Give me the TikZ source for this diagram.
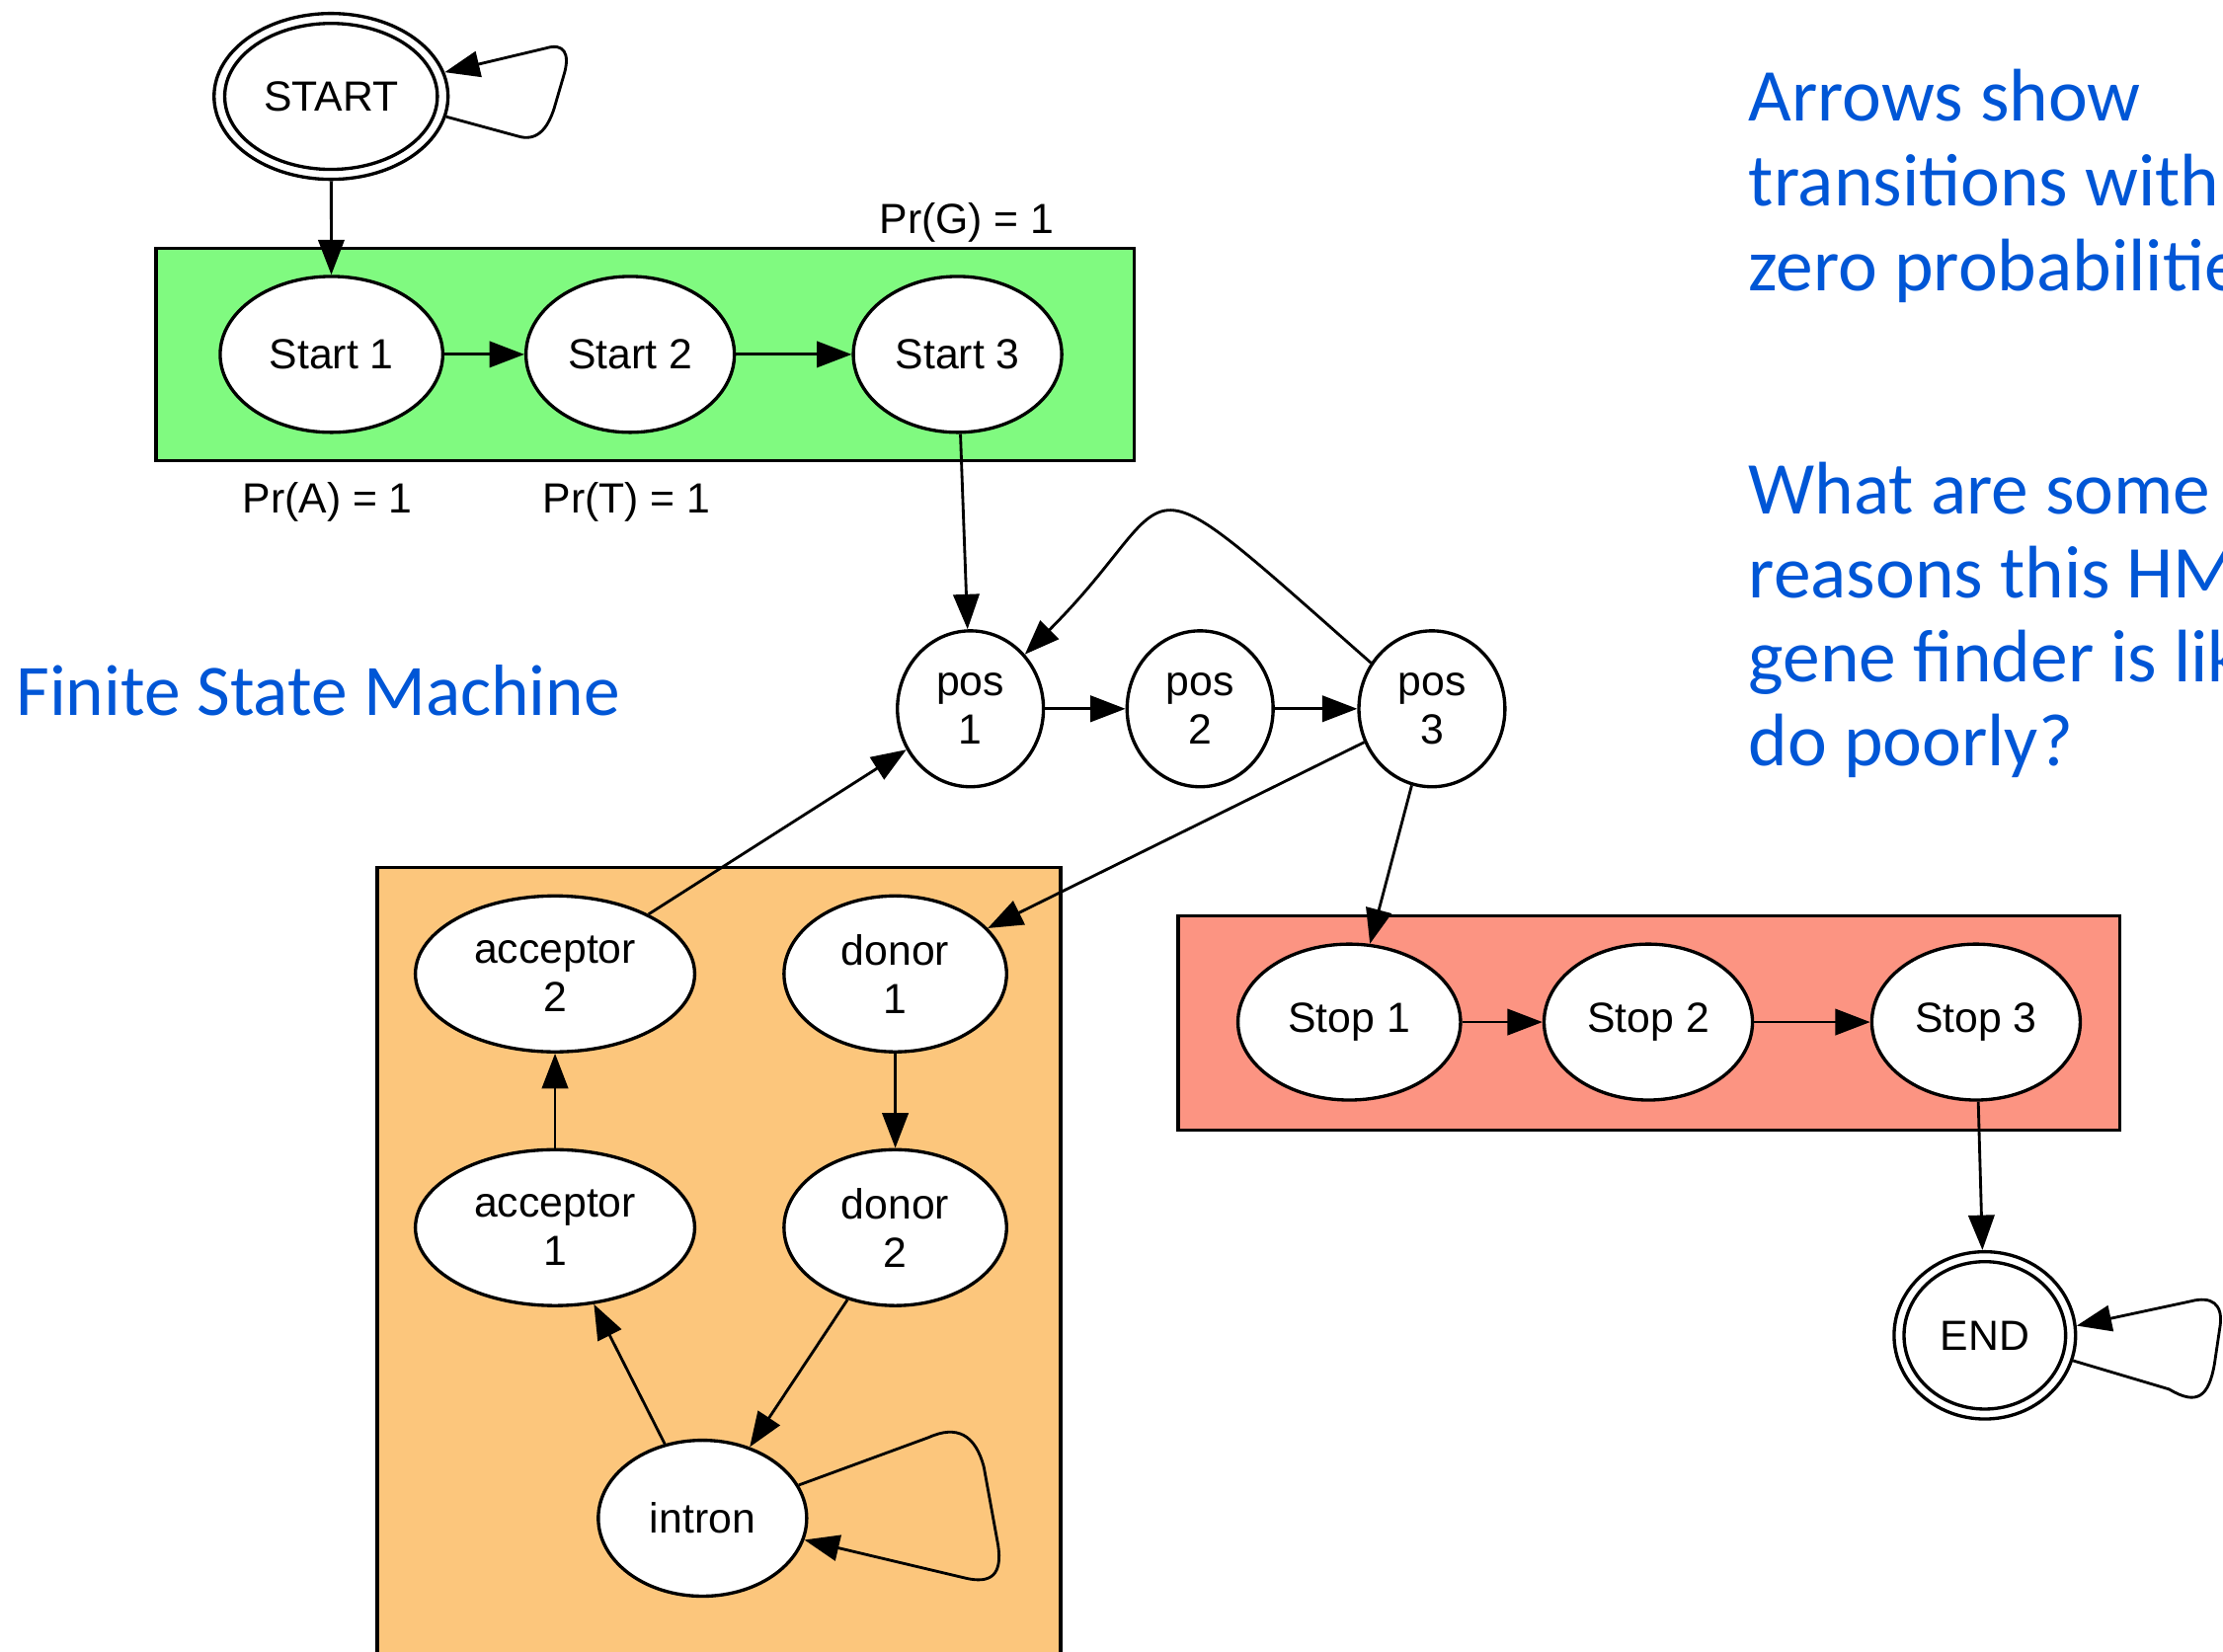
\documentclass[tikz,border=0pt]{standalone}
\usepackage{fontspec}
\usetikzlibrary{shapes.geometric, arrows.meta}
\newfontfamily\nodefont{Liberation Sans}
\newfontfamily\bluefont{Carlito}
\definecolor{boxgreen}{RGB}{128,250,128}
\definecolor{boxorange}{RGB}{252,198,124}
\definecolor{boxred}{RGB}{252,148,130}
\definecolor{textblue}{RGB}{0,86,214}
\begin{document}
\begin{tikzpicture}[x=0.43pt, y=-0.43pt,
  st/.style={ellipse, draw, fill=white, line width=1pt, inner sep=0pt, align=center,
     font=\nodefont\fontsize{12.8pt}{14.6pt}\selectfont},
  sz/.style n args={2}{minimum width={#1*0.43pt}, minimum height={#2*0.43pt}},
  edge/.style={line width=0.85pt, line join=round, -{Triangle[length=10.6pt,width=7.9pt]}},
  lbl/.style={inner sep=0pt, font=\nodefont\fontsize{12.8pt}{14.6pt}\selectfont},
  bluetext/.style={inner sep=0pt, anchor=base west, text=textblue,
     font=\bluefont\fontsize{22.6pt}{25.5pt}\selectfont},
  cluster/.style={draw, line width=1pt}
]
\useasboundingbox (0,0) rectangle (1568,1165);

% clusters
\draw[cluster, fill=boxgreen] (110,175) rectangle (800,325);
\draw[cluster, fill=boxorange] (266,612) rectangle (748,1190);
\draw[cluster, fill=boxred] (831,646) rectangle (1495,797);

% states
\node[st, sz={165}{117}] (START) at (233.5,68) {};
\node[st, sz={150}{103}] (STARTin) at (233.5,68) {START};

\node[st, sz={157}{110}] (s1) at (233.8,250) {Start 1};
\node[st, sz={147}{110}] (s2) at (444.5,250) {Start 2};
\node[st, sz={147}{110}] (s3) at (675.4,250) {Start 3};

\node[st, sz={103}{110}] (p1) at (684.5,500) {pos\\1};
\node[st, sz={103}{110}] (p2) at (846.5,500) {pos\\2};
\node[st, sz={103}{110}] (p3) at (1010,500) {pos\\3};

\node[st, sz={197}{110}] (a2) at (391.5,687) {acceptor\\2};
\node[st, sz={157}{110}] (d1) at (631.5,687) {donor\\1};
\node[st, sz={197}{110}] (a1) at (391.5,866) {acceptor\\1};
\node[st, sz={157}{110}] (d2) at (631.5,866) {donor\\2};
\node[st, sz={147}{110}] (intron) at (495.5,1071) {intron};

\node[st, sz={157}{110}] (t1) at (951.7,721) {Stop 1};
\node[st, sz={147}{110}] (t2) at (1162.6,721) {Stop 2};
\node[st, sz={147}{110}] (t3) at (1393.8,721) {Stop 3};

\node[st, sz={128}{118}] (END) at (1400,942) {};
\node[st, sz={114}{104}] (ENDin) at (1400,942) {END};

% labels
\node[lbl, anchor=base] (prg) at (682,165) {Pr(G) = 1};
\node[lbl, anchor=base] (pra) at (231,362) {Pr(A) = 1};
\node[lbl, anchor=base] (prt) at (442,362) {Pr(T) = 1};

% edges
\draw[edge] (START) -- (s1);
\draw[edge] (START.-10) -- (365,96) .. controls (378,100) and (386,92) .. (391,76)
   -- (398,52) .. controls (402,38) and (398,30) .. (385,34) -- (START.12);
\draw[edge] (s1) -- (s2);
\draw[edge] (s2) -- (s3);
\draw[edge] (s3) -- (p1);
\draw[edge] (p1) -- (p2);
\draw[edge] (p2) -- (p3);
\draw[edge] (p3.143) .. controls (788.6,310.5) and (839.4,345.3) .. (p1.45);
\draw[edge] (p3) -- (d1);
\draw[edge] (p3) -- (t1);
\draw[edge] (a2) -- (p1);
\draw[edge] (a1) -- (a2);
\draw[edge] (d1) -- (d2);
\draw[edge] (d2) -- (intron);
\draw[edge] (intron) -- (a1);
\draw[edge] (intron.19) -- (655,1014) .. controls (675,1005) and (688,1012) .. (694,1035)
   -- (704,1090) .. controls (707,1110) and (700,1118) .. (680,1113) -- (intron.-12);
\draw[edge] (t1) -- (t2);
\draw[edge] (t2) -- (t3);
\draw[edge] (t3) -- (END);
\draw[edge] (END.-16) -- (1530,980) .. controls (1550,992) and (1558,985) .. (1562,962)
   -- (1566,935) .. controls (1568,920) and (1560,914) .. (1545,918) -- (END.6);

% blue text
\node[bluetext, font=\bluefont\fontsize{22pt}{25.5pt}\selectfont] (fsm) at (11,505) {Finite State Machine};
\node[bluetext] (q1) at (1233,85.3) {Arrows show};
\node[bluetext] (q2) at (1233,145.5) {transitions with};
\node[bluetext] (q3) at (1233,205) {zero probabilitie};
\node[bluetext] (q4) at (1233,362.6) {What are some};
\node[bluetext] (q5) at (1233,421.8) {reasons this HM};
\node[bluetext] (q6) at (1233,481) {gene finder is lik};
\node[bluetext] (q7) at (1233,540) {do poorly?};
\end{tikzpicture}
\end{document}
